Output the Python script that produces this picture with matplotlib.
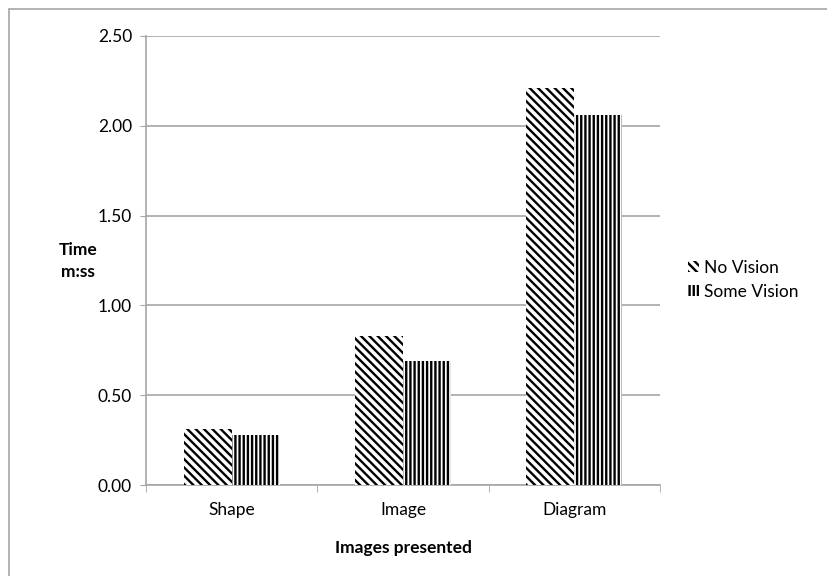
import matplotlib
matplotlib.use('Agg')
import matplotlib.pyplot as plt
import numpy as np
from matplotlib.patches import Rectangle

plt.rcParams['font.family'] = ['Lato', 'DejaVu Sans']
plt.rcParams['hatch.linewidth'] = 1.7

# Данные
categories = ['Shape', 'Image', 'Diagram']
no_vision = [0.31, 0.83, 2.21]
some_vision = [0.28, 0.69, 2.06]
yticks = [0.0, 0.5, 1.0, 1.5, 2.0, 2.5]

fig = plt.figure(figsize=(8.28, 5.76), dpi=100)
ax = fig.add_axes([146 / 828, 1 - 485 / 576, 514 / 828, 449 / 576])

# Рамка вокруг всей диаграммы (обрезана справа и снизу)
fig.patches.append(Rectangle((9 / 828, -0.1), 1.2, 1 - 9 / 576 + 0.1,
                             transform=fig.transFigure, fill=False,
                             edgecolor='#a6a6a6', linewidth=1.2))

x = np.arange(len(categories))
w = 0.28
ax.bar(x - w / 2, no_vision, w, facecolor='white', edgecolor='black',
       linewidth=0, hatch='\\\\\\\\', label='No Vision', zorder=3)
ax.bar(x + w / 2, some_vision, w, facecolor='white', edgecolor='black',
       linewidth=0, hatch='||||', label='Some Vision', zorder=3)

ax.set_xlim(-0.5, 2.5)
ax.set_ylim(0, 2.5)
ax.set_yticks(yticks)
ax.set_yticklabels([f'{v:.2f}' for v in yticks], fontsize=12.5)
ax.yaxis.grid(True, color='#a6a6a6', linewidth=1.2, zorder=0)
ax.tick_params(axis='y', length=4, color='#a6a6a6', pad=6)

ax.set_xticks(x)
ax.set_xticklabels(categories, fontsize=12.5)
ax.tick_params(axis='x', length=0, pad=12)
ax.set_xticks([-0.5, 0.5, 1.5, 2.5], minor=True)
ax.tick_params(axis='x', which='minor', length=5, color='#a6a6a6')

for s in ['top', 'right']:
    ax.spines[s].set_visible(False)
for s in ['left', 'bottom']:
    ax.spines[s].set_color('#a6a6a6')
    ax.spines[s].set_linewidth(1.2)

ax.set_xlabel('Images presented', fontsize=12.5, fontweight='bold', labelpad=16)
ax.text(78 / 828, 1 - 261 / 576, 'Time\nm:ss', transform=fig.transFigure,
        fontsize=12.5, fontweight='bold', ha='center', va='center',
        linespacing=1.5)

ax.legend(loc='center left', bbox_to_anchor=(1.025, 0.457), frameon=False,
          fontsize=12.5, handlelength=0.6, handleheight=0.6, handletextpad=0.3,
          labelspacing=0.45)

plt.savefig('out.png', dpi=100)
plt.close()
